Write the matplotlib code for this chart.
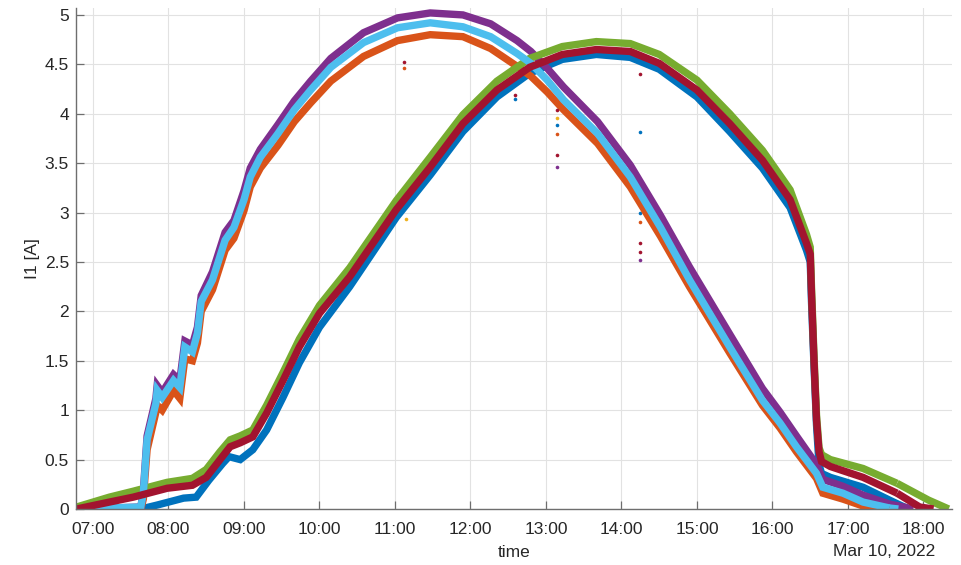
import datetime as dt

import matplotlib
matplotlib.use("Agg")
import matplotlib.pyplot as plt
import matplotlib.dates as mdates


DAY = dt.date(2022, 3, 10)

# =========================
# STRING 1 (morning peak)
# =========================
east_times = ["06:47", "07:38", "07:40", "07:43", "07:50", "07:51", "07:55", "08:04",
              "08:09", "08:13", "08:19", "08:23", "08:26", "08:35", "08:45", "08:52",
              "09:00", "09:05", "09:13", "09:27", "09:40", "09:53", "10:09", "10:35",
              "11:02", "11:28", "11:54", "12:16", "12:37", "12:48", "13:01", "13:14",
              "13:41", "14:07", "14:31", "14:54", "15:26", "15:52", "16:06", "16:19",
              "16:35", "16:40", "16:56", "17:12", "17:33"]
orange_vals = [0.0, 0.0, 0.10, 0.60, 0.98, 1.05, 1.00, 1.20,
               1.12, 1.52, 1.50, 1.68, 2.00, 2.22, 2.62, 2.74,
               3.02, 3.26, 3.45, 3.68, 3.92, 4.11, 4.33, 4.58,
               4.74, 4.80, 4.78, 4.66, 4.48, 4.38, 4.22, 4.04,
               3.70, 3.26, 2.76, 2.25, 1.58, 1.05, 0.82, 0.58,
               0.31, 0.16, 0.10, 0.03, 0.0]
purple_vals = [0.0, 0.02, 0.18, 0.74, 1.12, 1.25, 1.18, 1.36,
               1.30, 1.70, 1.66, 1.84, 2.16, 2.40, 2.80, 2.92,
               3.22, 3.45, 3.64, 3.89, 4.13, 4.33, 4.56, 4.82,
               4.97, 5.02, 5.00, 4.91, 4.74, 4.63, 4.46, 4.27,
               3.92, 3.48, 2.97, 2.45, 1.77, 1.22, 0.98, 0.74,
               0.45, 0.30, 0.23, 0.14, 0.05]
lightblue_vals = [0.0, 0.02, 0.16, 0.70, 1.07, 1.20, 1.13, 1.30,
                  1.23, 1.64, 1.59, 1.78, 2.10, 2.32, 2.72, 2.85,
                  3.13, 3.36, 3.56, 3.80, 4.04, 4.24, 4.47, 4.72,
                  4.87, 4.92, 4.88, 4.78, 4.61, 4.51, 4.34, 4.14,
                  3.80, 3.36, 2.85, 2.32, 1.64, 1.10, 0.87, 0.63,
                  0.36, 0.22, 0.16, 0.07, 0.01]
purple_tail_times = ["17:33", "17:52"]
purple_tail_vals = [0.05, 0.0]
lightblue_tail_times = ["17:33", "17:40"]
lightblue_tail_vals = [0.01, 0.0]

# =========================
# STRING 2 (afternoon peak)
# =========================
west_times = ["06:47", "07:13", "07:32", "07:59", "08:19", "08:30", "08:41", "08:49",
              "08:57", "09:07", "09:18", "09:31", "09:44", "10:00", "10:24", "11:01",
              "11:28", "11:54", "12:21", "12:47", "13:13", "13:40", "14:07", "14:30",
              "15:00", "15:26", "15:52", "16:14", "16:27", "16:30", "16:31", "16:33",
              "16:35", "16:37", "16:39", "16:46", "17:12", "17:39"]
green_vals = [0.02, 0.12, 0.18, 0.27, 0.31, 0.40, 0.58, 0.70,
              0.74, 0.80, 1.05, 1.38, 1.72, 2.06, 2.44, 3.12,
              3.56, 3.99, 4.33, 4.56, 4.68, 4.73, 4.71, 4.60,
              4.34, 4.00, 3.63, 3.23, 2.78, 2.65, 2.25, 1.55,
              0.95, 0.62, 0.55, 0.50, 0.41, 0.26]
red_vals = [0.0, 0.07, 0.12, 0.21, 0.24, 0.32, 0.50, 0.63,
            0.67, 0.73, 0.97, 1.30, 1.64, 1.98, 2.35, 3.03,
            3.46, 3.90, 4.24, 4.47, 4.60, 4.65, 4.63, 4.51,
            4.24, 3.90, 3.53, 3.13, 2.69, 2.58, 2.18, 1.50,
            0.90, 0.58, 0.48, 0.43, 0.32, 0.16]
green_tail_times = ["17:39", "18:04", "18:20"]
green_tail_vals = [0.26, 0.09, 0.0]
red_tail_times = ["17:39", "17:57", "18:08"]
red_tail_vals = [0.16, 0.02, 0.0]

blue_times = ["06:47", "07:38", "07:51", "08:12", "08:22", "08:32", "08:43", "08:48",
              "08:57", "09:07", "09:18", "09:31", "09:44", "10:00", "10:24", "11:01",
              "11:28", "11:54", "12:21", "12:47", "13:13", "13:40", "14:07", "14:30",
              "15:00", "15:26", "15:52", "16:14", "16:27", "16:30", "16:31", "16:33",
              "16:35", "16:37", "16:39", "16:46", "17:12", "17:33", "17:48"]
blue_vals = [0.0, 0.0, 0.04, 0.11, 0.12, 0.29, 0.46, 0.53,
             0.50, 0.60, 0.80, 1.13, 1.48, 1.84, 2.25, 2.95,
             3.38, 3.82, 4.17, 4.41, 4.55, 4.60, 4.57, 4.45,
             4.17, 3.82, 3.45, 3.05, 2.62, 2.50, 2.10, 1.45,
             0.85, 0.45, 0.36, 0.32, 0.22, 0.09, 0.0]

# =========================
# SINGLE OUTLIER SAMPLES
# =========================
blue_out_times = ["12:35", "13:09", "14:15", "14:15"]
blue_out_vals = [4.15, 3.89, 3.82, 3.00]
orange_out_times = ["11:07", "13:09", "14:15"]
orange_out_vals = [4.46, 3.79, 2.90]
yellow_out_times = ["11:09", "13:09"]
yellow_out_vals = [2.93, 3.96]
purple_out_times = ["13:09", "14:15"]
purple_out_vals = [3.46, 2.52]
red_out_times = ["11:07", "12:35", "13:09", "13:09", "14:15", "14:15", "14:15"]
red_out_vals = [4.52, 4.19, 4.04, 3.58, 4.40, 2.69, 2.60]

TICK_HOURS = list(range(7, 19))

COLORS = {
    "blue": "#0072BD",
    "orange": "#D95319",
    "yellow": "#EDB120",
    "purple": "#7E2F8E",
    "green": "#77AC30",
    "lightblue": "#4DBEEE",
    "red": "#A2142F",
}


def to_dt(times):
    out = []
    for t in times:
        h, m = t.split(":")
        out.append(dt.datetime.combine(DAY, dt.time(int(h), int(m))))
    return out


plt.rcParams["font.family"] = ["Liberation Sans", "DejaVu Sans"]
TEXT_COLOR = "#262626"

fig = plt.figure(figsize=(9.62, 5.65), dpi=100)
ax = fig.add_axes([76 / 962, 56 / 565, 876 / 962, 501 / 565])

LW = 5.3

def line(times, vals, name):
    ax.plot(to_dt(times), vals, color=COLORS[name], lw=LW,
            solid_capstyle="butt", solid_joinstyle="miter")


def dots(times, vals, name):
    ax.plot(to_dt(times), vals, ls="none", marker="o", ms=2.6,
            color=COLORS[name], mec="none")


# draw order follows the channel order (blue first, dark red last)
line(blue_times, blue_vals, "blue")
dots(blue_out_times, blue_out_vals, "blue")
line(east_times, orange_vals, "orange")
dots(orange_out_times, orange_out_vals, "orange")
dots(yellow_out_times, yellow_out_vals, "yellow")
line(east_times, purple_vals, "purple")
line(purple_tail_times, purple_tail_vals, "purple")
dots(purple_out_times, purple_out_vals, "purple")
line(west_times, green_vals, "green")
line(green_tail_times, green_tail_vals, "green")
line(east_times, lightblue_vals, "lightblue")
line(lightblue_tail_times, lightblue_tail_vals, "lightblue")
line(west_times, red_vals, "red")
line(red_tail_times, red_tail_vals, "red")
dots(red_out_times, red_out_vals, "red")

# axes styling
x0 = dt.datetime.combine(DAY, dt.time(6, 46, 30))
x1 = dt.datetime.combine(DAY, dt.time(18, 22, 40))
ax.set_xlim(x0, x1)
ax.set_ylim(0, 5.07)

ax.set_xticks([dt.datetime.combine(DAY, dt.time(h, 0)) for h in TICK_HOURS])
ax.xaxis.set_major_formatter(mdates.DateFormatter("%H:%M"))
ax.set_yticks([0, 0.5, 1, 1.5, 2, 2.5, 3, 3.5, 4, 4.5, 5])
ax.set_yticklabels(["0", "0.5", "1", "1.5", "2", "2.5", "3", "3.5", "4", "4.5", "5"])

ax.grid(True, color="#e2e2e2", lw=0.8)
ax.set_axisbelow(True)

for side in ["top", "right"]:
    ax.spines[side].set_visible(False)
for side in ["left", "bottom"]:
    ax.spines[side].set_color("#6e6e6e")
    ax.spines[side].set_linewidth(1.0)

ax.tick_params(axis="both", direction="in", length=5.5, width=0.9,
               color="#6e6e6e", labelsize=12.5, labelcolor=TEXT_COLOR)
ax.tick_params(axis="x", pad=9)
ax.tick_params(axis="y", pad=5)

ax.set_ylabel("I1 [A]", fontsize=12.5, color=TEXT_COLOR)
ax.yaxis.set_label_coords(-0.041, 0.5)
ax.set_xlabel("time", fontsize=12.5, color=TEXT_COLOR)
ax.xaxis.set_label_coords(0.5, -0.072, transform=ax.transAxes)
ax.xaxis.label.set_verticalalignment("top")
fig.text(935 / 962, 1 - 552 / 565, "Mar 10, 2022", ha="right", va="center",
         fontsize=12.5, color=TEXT_COLOR)

fig.savefig("out.png", dpi=100)
